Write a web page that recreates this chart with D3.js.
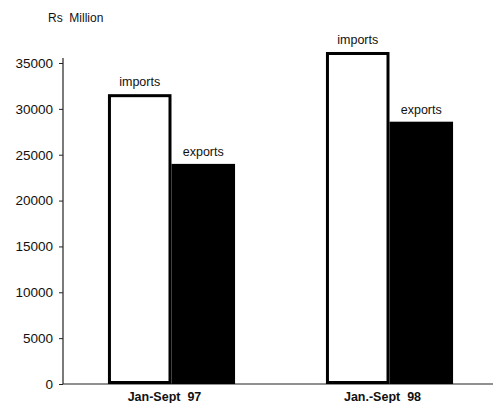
<!DOCTYPE html>
<html><head><meta charset="utf-8">
<script src="https://cdn.jsdelivr.net/npm/d3@7"></script>
<style>body{margin:0;background:#fff}svg{display:block}text{font-family:"Liberation Sans",Arial,sans-serif;fill:#111}</style>
</head><body>
<svg id="c" width="494" height="403"></svg>
<script>
const categories = ["Jan-Sept  97", "Jan.-Sept  98"];
const series = ["imports", "exports"];
const imports = [31600, 36200];
const exports_ = [24000, 28600];
const yTicks = [0, 5000, 10000, 15000, 20000, 25000, 30000, 35000];
const unitLabel = "Rs  Million";

const svg = d3.select("#c");
const y = d3.scaleLinear().domain([0, 35000]).range([384, 63]);
const x0 = d3.scaleBand().domain(categories).range([65, 496]).paddingInner(0.417).paddingOuter(0.197);
const x1 = d3.scaleBand().domain(series).range([0, x0.bandwidth()]);

const data = categories.map((c, i) => ({cat: c, values: [{s: "imports", v: imports[i]}, {s: "exports", v: exports_[i]}]}));

// y axis
const yAxis = d3.axisLeft(y).tickValues(yTicks).tickSize(4).tickPadding(6).tickFormat(d3.format("d"));
const gy = svg.append("g").attr("transform", "translate(63,0)").call(yAxis);
gy.select(".domain").remove();
gy.selectAll(".tick line").attr("stroke", "#222").attr("stroke-width", 1);
gy.selectAll(".tick text").style("font-size", "13.5px").attr("fill", "#111");
svg.append("line").attr("x1", 63).attr("x2", 63).attr("y1", 58).attr("y2", 384).attr("stroke", "#222").attr("stroke-width", 1.2);
svg.append("line").attr("x1", 63).attr("x2", 493).attr("y1", 384).attr("y2", 384).attr("stroke", "#222").attr("stroke-width", 1.2);

svg.append("text").attr("x", 48).attr("y", 22).style("font-size", "12px").attr("xml:space", "preserve").text(unitLabel);

const g = svg.selectAll(".grp").data(data).enter().append("g").attr("transform", d => `translate(${x0(d.cat)},0)`);
g.selectAll("rect").data(d => d.values).enter().append("rect")
  .attr("x", d => x1(d.s) + (d.s === "imports" ? 1.5 : 0))
  .attr("y", d => y(d.v) + (d.s === "imports" ? 1.5 : 0))
  .attr("width", d => x1.bandwidth() - (d.s === "imports" ? 3 : 0))
  .attr("height", d => y(0) - y(d.v) - (d.s === "imports" ? 3 : 0))
  .attr("fill", d => d.s === "imports" ? "#fff" : "#000")
  .attr("stroke", d => d.s === "imports" ? "#000" : "none")
  .attr("stroke-width", 3);
g.selectAll("text.lbl").data(d => d.values).enter().append("text").attr("class", "lbl")
  .attr("x", d => x1(d.s) + x1.bandwidth() / 2)
  .attr("y", d => y(d.v) - 8)
  .attr("text-anchor", "middle").style("font-size", "12.5px")
  .text(d => d.s);

// category labels
svg.selectAll("text.cat").data(categories).enter().append("text").attr("class", "cat")
  .attr("x", d => x0(d) + x0.bandwidth() / 2 - 7)
  .attr("y", 401)
  .attr("text-anchor", "middle").style("font-size", "12.5px").style("font-weight", "bold")
  .attr("xml:space", "preserve")
  .text(d => d);
</script>
</body></html>
